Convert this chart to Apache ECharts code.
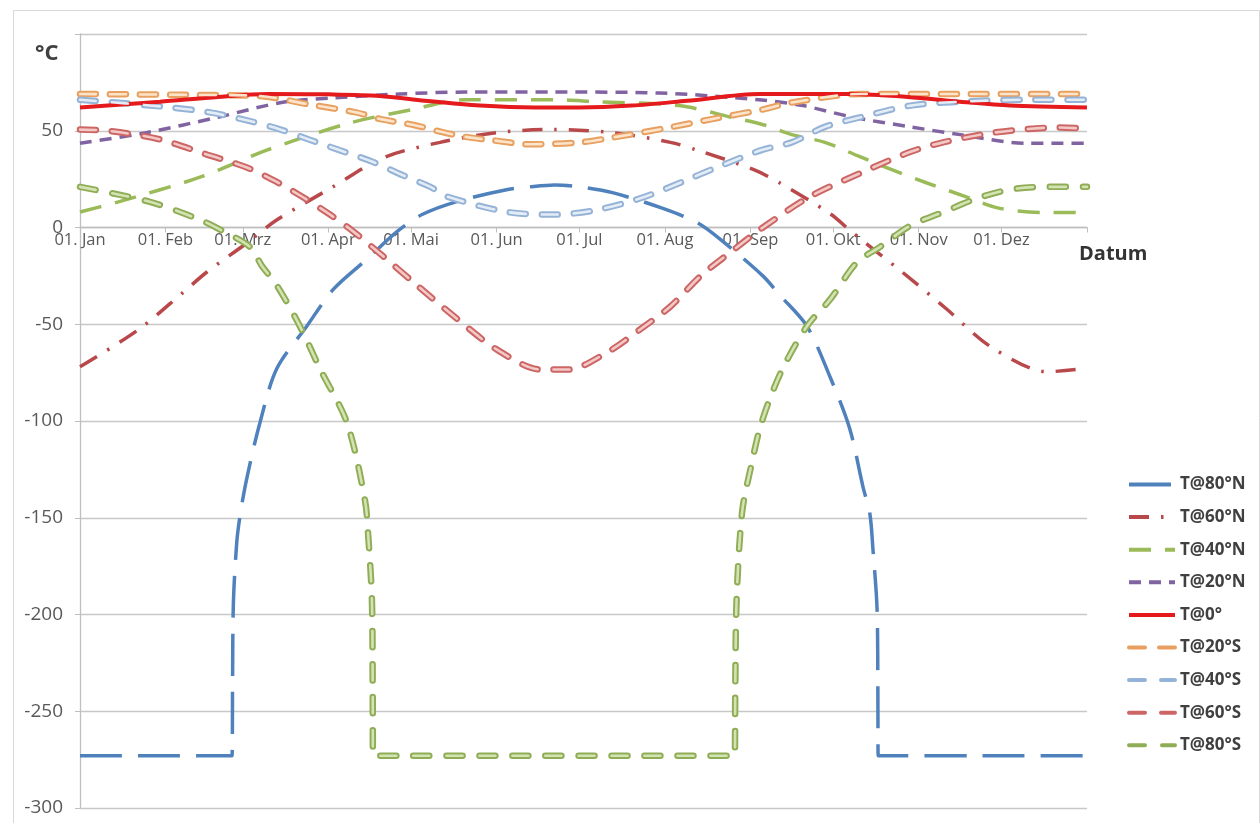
<!DOCTYPE html>
<html>
<head>
<meta charset="utf-8">
<script src="https://cdn.jsdelivr.net/npm/echarts@6/dist/echarts.min.js"></script>
<style>html,body{margin:0;padding:0;background:#fff;}#c{width:1260px;height:823px;}</style>
</head>
<body>
<div id="c"></div>
<script>
// Month ticks (day of year) and labels
const monthStarts = [0, 31, 59, 90, 120, 151, 181, 212, 243, 273, 304, 334];
const monthLabels = ['01. Jan','01. Feb','01. Mrz','01. Apr','01. Mai','01. Jun','01. Jul','01. Aug','01. Sep','01. Okt','01. Nov','01. Dez'];
const yearEnd = 365;
const yMin = -300, yMax = 100, yStep = 50;
const seriesNames = ['T@80°N','T@60°N','T@40°N','T@20°N','T@0°','T@20°S','T@40°S','T@60°S','T@80°S'];

// [day of year, °C]
const t80N = [[0,-273],[30,-273],[55.1,-273],[55.3,-235],[55.6,-194],[56.8,-163],[58,-149],[60.4,-130],[65.2,-101],[71.3,-73],[82.2,-51],[91.8,-32],[103.9,-16.5],[115,-2],[124,6.7],[136.6,13.4],[155,19.6],[163,21],[172,22],[181,21],[193,18],[211,10],[223.6,2.6],[232,-6],[247.5,-25],[253.7,-35],[263.5,-51],[271.8,-77],[279,-104],[283.8,-134],[286.3,-148],[287.4,-166],[288.9,-197],[289.2,-240],[289.3,-273],[330,-273],[365,-273]];
const t60N = [[0,-72],[21,-53],[37,-34],[46,-23],[60.5,-8],[71.4,4],[91.7,21],[109.8,36],[130.5,44],[151,49],[171,50.7],[193,49],[214,44],[223.6,40],[244,30],[253.7,23],[272,7],[280,-2.6],[298,-23],[314,-42],[330,-61.5],[350.5,-74.5],[361,-73.4],[365,-72]];
const t40N = [[0,8],[13.3,13],[43.5,26],[67.7,40],[97.8,54],[120.7,61],[139,66],[172,66],[187,65],[217,63],[236,57],[248,53],[258,48],[270,44],[282,37],[294,30],[307,23],[321,16],[333,10],[349,7.8],[365,7.8]];
const t20N = [[0,43.5],[24,49],[50,57],[73,64.6],[92,67],[116,69],[140,70],[172,70],[210,69.5],[246,66],[262,63],[280,57],[301,52],[319,48],[343,43.5],[365,43.5]];
const t0 = [[0,62],[29,65],[50,67.5],[68,69],[90,68.8],[108.7,68],[125,65.5],[145,63],[165,62],[181,62],[200,63],[220,65.5],[246.5,69],[279,69],[300,67.5],[319,65],[337,63],[365,62]];
const t20S = [[0,69],[43.5,68.5],[65,68],[83,63.6],[100,59.5],[109,56],[121,53],[130.5,49.6],[139,47],[150,45],[163,43],[181,44],[193,46.5],[211,51],[229,56],[247.5,61],[258,64.6],[283,69],[320,69],[365,69]];
const t40S = [[0,66],[29,62.6],[47,59.5],[61.6,55],[72.5,50.7],[83,45.5],[94,40],[106,34],[117,27],[127,21],[133,16],[155,8],[172,6.7],[187,9],[205,16],[229,30],[247,40],[258,44],[270,52],[283,57],[301,63],[319,65],[343,66],[365,66]];
const t60S = [[0,50.6],[10,50],[29,45.5],[46,37.7],[60.5,31],[71,23.8],[81,15.5],[90.6,6.7],[99,-2],[110,-15],[121,-28.5],[137,-47.6],[151,-63],[167,-73.4],[177,-73.4],[191,-64.6],[203,-52.7],[214,-40.8],[225,-25],[235.6,-13],[247.5,0],[264.6,16],[282.7,28],[300.8,39],[312.8,44],[331,49],[355,51.7],[365,51]];
const t80S = [[0,21],[25,13.4],[43.5,4],[52,-2],[61.6,-10],[66,-20],[71.4,-30],[79.7,-51],[87,-73],[96.8,-101],[103.3,-141],[104.5,-160],[105.8,-192],[106.1,-240],[106.2,-273],[150,-273],[200,-273],[237.3,-273],[237.5,-240],[238,-192],[240,-147],[243,-125],[247,-101],[254,-75],[263.5,-51],[272,-37],[281.6,-18],[290,-10],[301,1],[313,8],[325,15],[337,19.6],[349,21],[365,21]];

const SM = 0.3;
function simple(name, data, color, width, dash, cap) {
  return {
    name: name, type: 'line', data: data, symbol: 'none', showSymbol: false,
    smooth: SM,
    lineStyle: {color: color, width: width, type: dash, cap: cap || 'butt'},
    itemStyle: {color: color},
    z: 2
  };
}
function compound(name, data, outer, inner, dash) {
  return [
    {
      name: name, type: 'line', data: data, symbol: 'none', showSymbol: false,
      smooth: SM,
      lineStyle: {color: outer, width: 6.5, type: dash, cap: 'round'},
      itemStyle: {color: outer}, z: 2
    },
    {
      name: name + ' ', type: 'line', data: data, symbol: 'none', showSymbol: false,
      smooth: SM, silent: true,
      lineStyle: {color: inner, width: 2.6, type: dash, cap: 'round'},
      itemStyle: {color: inner}, z: 3
    }
  ];
}

const series = [].concat(
  simple(seriesNames[0], t80N, '#4F81BD', 3.5, [42, 16]),
  simple(seriesNames[1], t60N, '#B9484A', 3.5, [20, 12, 2.5, 12]),
  simple(seriesNames[2], t40N, '#9BBB59', 3.5, [22, 14]),
  simple(seriesNames[3], t20N, '#8064A2', 3.5, [12, 8]),
  compound(seriesNames[5], t20S, '#E8A060', '#FCE4CA', [16, 14]),
  compound(seriesNames[6], t40S, '#95B3D7', '#E4ECF6', [16, 16]),
  compound(seriesNames[7], t60S, '#CC6664', '#F3C9C8', [16, 16]),
  compound(seriesNames[8], t80S, '#8FAD55', '#D4E3B4', [16, 17]),
  simple(seriesNames[4], t0, '#E41A1C', 4, 'solid')
);

const W = 1260, H = 823;
const gridTop = 34, gridBottom = 15;
const gridH = H - gridTop - gridBottom;
const zeroOffset = -gridH * (0 - yMin) / (yMax - yMin);

const chart = echarts.init(document.getElementById('c'), null, {renderer: 'canvas'});
chart.setOption({
  animation: false,
  backgroundColor: '#ffffff',
  title: {
    text: '°C', left: 30, top: 38,
    textStyle: {fontFamily: 'Open Sans', fontSize: 22, fontWeight: 'bold', color: '#404040'}
  },
  graphic: [{
    type: 'rect', left: 11, top: 8, z: -1,
    shape: {width: 1246, height: 840},
    style: {fill: 'none', stroke: '#D9D9D9', lineWidth: 1}
  }],
  legend: {
    data: seriesNames,
    orient: 'vertical', left: 1122, top: 471,
    itemWidth: 46, itemHeight: 16, itemGap: 15.6,
    itemStyle: {opacity: 0},
    lineStyle: {width: 4},
    textStyle: {fontFamily: 'Open Sans', fontSize: 17, fontWeight: 'bold', color: '#404040', lineHeight: 16}
  },
  grid: {left: 80, right: 173, top: gridTop, bottom: gridBottom, containLabel: false},
  xAxis: {
    type: 'value', min: 0, max: yearEnd,
    position: 'bottom', offset: zeroOffset,
    name: 'Datum', nameLocation: 'end', nameGap: -8,
    nameTextStyle: {fontFamily: 'Open Sans', fontSize: 20, fontWeight: 'bold', color: '#333', align: 'left', verticalAlign: 'top', padding: [17, 0, 0, 0]},
    axisLine: {onZero: false, lineStyle: {color: '#BFBFBF', width: 1.3}},
    axisTick: {show: true, length: 5, customValues: monthStarts.concat([yearEnd]), lineStyle: {color: '#BFBFBF'}},
    axisLabel: {
      customValues: monthStarts, margin: 4,
      fontFamily: 'Open Sans', fontSize: 16.5, color: '#595959',
      formatter: function (v) { const i = monthStarts.indexOf(Math.round(v)); return i >= 0 ? monthLabels[i] : ''; }
    },
    splitLine: {show: false}
  },
  yAxis: {
    type: 'value', min: yMin, max: yMax, interval: yStep,
    axisLine: {show: true, lineStyle: {color: '#BFBFBF', width: 1.3}},
    axisTick: {show: true, length: 5, lineStyle: {color: '#BFBFBF'}},
    axisLabel: {
      margin: 17, fontFamily: 'Open Sans', fontSize: 19, color: '#595959',
      formatter: function (v) { return v === yMax ? '' : String(v); }
    },
    splitLine: {show: true, lineStyle: {color: '#C8C8C8', width: 1.3}}
  },
  series: series
});
</script>
</body>
</html>
